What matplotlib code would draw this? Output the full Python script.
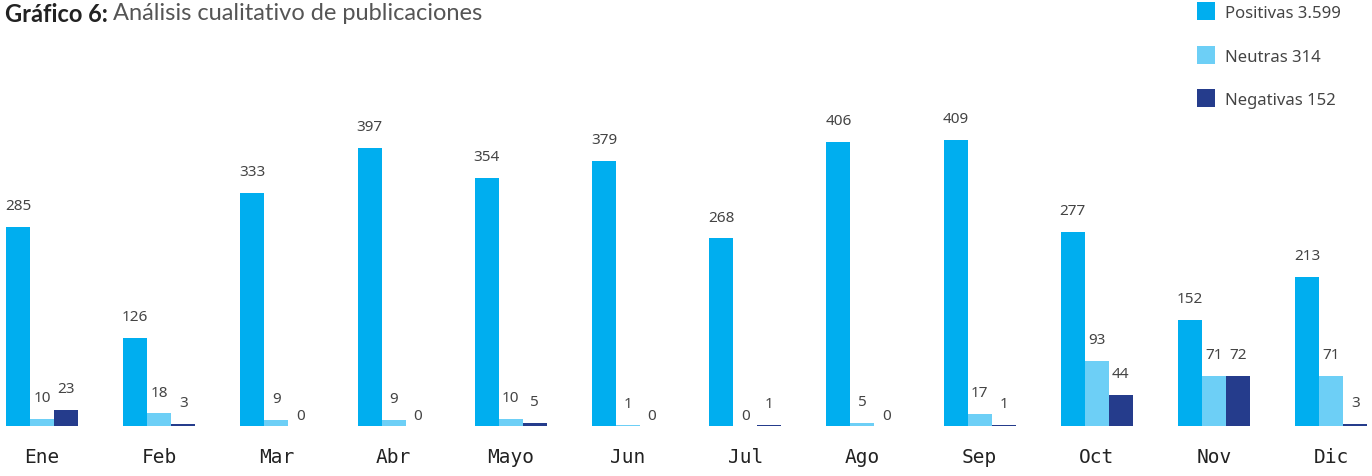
import matplotlib
matplotlib.use("Agg")
import matplotlib.pyplot as plt
from matplotlib.patches import Rectangle
import numpy as np

meses = ["Ene", "Feb", "Mar", "Abr", "Mayo", "Jun", "Jul", "Ago", "Sep", "Oct", "Nov", "Dic"]
positivas = [285, 126, 333, 397, 354, 379, 268, 406, 409, 277, 152, 213]
neutras = [10, 18, 9, 9, 10, 1, 0, 5, 17, 93, 71, 71]
negativas = [23, 3, 0, 0, 5, 0, 1, 0, 1, 44, 72, 3]

series = [
    ("Positivas", positivas, "#00AEEF"),
    ("Neutras", neutras, "#6DCFF6"),
    ("Negativas", negativas, "#253C8C"),
]

W, H, DPI = 1372, 477, 100
fig = plt.figure(figsize=(W / DPI, H / DPI), dpi=DPI)

base_px = 427          # baseline from top
step_px = 117.2        # distance between month groups
first_px = 42          # centre of first group
bar_px = 24

ax = fig.add_axes([0, (H - base_px) / H, 1, base_px / H])
ax.set_xlim(-first_px / step_px, (W - first_px) / step_px)
ax.set_ylim(0, base_px / 0.70)
ax.axis("off")

x = np.arange(len(meses))
w = bar_px / step_px
label_font = dict(family="Noto Sans", fontsize=11, color="#444444")

for k, (name, vals, col) in enumerate(series):
    xs = x + (k - 1) * w
    ax.bar(xs, vals, width=w, color=col, linewidth=0)
    for xi, v in zip(xs, vals):
        off = 10 if v > 0 else 2
        ax.annotate(f"{v}", (xi, v), xytext=(0, off), textcoords="offset points",
                    ha="center", va="bottom", **label_font)

# month labels
for xi, m in zip(x, meses):
    fx = (first_px + xi * step_px) / W
    fig.text(fx, 1 - 458 / H, m, ha="center", va="center",
             family="DejaVu Sans Mono", fontsize=14, color="#222222")

# title
t1 = fig.text(5 / W, 1 - 3 / H, "Gráfico 6:", ha="left", va="top",
              family="Lato", fontweight="bold", fontsize=17, color="#222222")
fig.canvas.draw()
bb = t1.get_window_extent()
fig.text((bb.x1 + 5) / W, 1 - 3 / H, "Análisis cualitativo de publicaciones",
         ha="left", va="top", family="Lato", fontsize=17, color="#555555")

# legend with totals
def miles(n):
    return f"{n:,}".replace(",", ".")

for k, (name, vals, col) in enumerate(series):
    top = 3 + k * 43.5
    fig.add_artist(Rectangle((1197 / W, 1 - (top + 18) / H), 18 / W, 18 / H,
                             transform=fig.transFigure, facecolor=col, edgecolor="none"))
    fig.text(1225 / W, 1 - (top + 11) / H, f"{name} {miles(sum(vals))}",
             ha="left", va="center", family="Noto Sans", fontsize=12, color="#444444")

fig.savefig("out.png", dpi=DPI)
